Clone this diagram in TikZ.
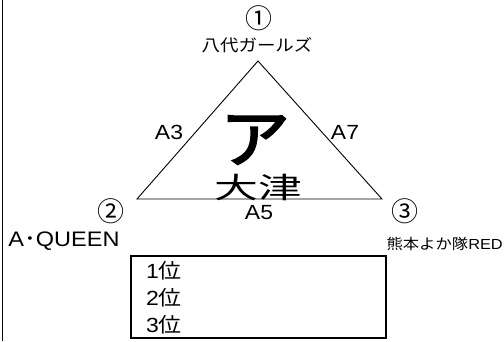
\documentclass[tikz,border=0pt]{standalone}
\usepackage{fontspec}
\setmainfont{Liberation Sans}[FakeStretch=1.12]
\newfontfamily\jp{Noto Sans CJK JP}[FakeStretch=1.12]
\newfontfamily\jpb{Noto Sans CJK JP}[FakeStretch=1.1,FakeBold=2.5]
\newfontfamily\circfont{Noto Sans CJK JP}
\begin{document}
\begin{tikzpicture}[x=1pt,y=-1pt,
  lbl/.style={inner sep=0pt,font=\fontsize{20.5}{20.5}\selectfont},
  circ/.style={inner sep=0pt,font=\circfont\fontsize{27}{27}\selectfont},
  small/.style={inner sep=0pt,font=\fontsize{14.6}{14.6}\selectfont}]
\useasboundingbox (0,0) rectangle (504,341);
\draw[line width=1pt] (2.5,0) -- (2.5,341);
\coordinate (t) at (258,61);
\coordinate (l) at (137,199);
\coordinate (r) at (382,199);
\draw[line width=0.9pt,line join=miter] (t) -- (l) -- (r) -- cycle;
\node[circ] (n1) at (259,18) {①};
\node[inner sep=0pt,font=\jp\fontsize{16.5}{16.5}\selectfont] (y) at (257,45) {八代ガールズ};
\node[lbl] (a3) at (169,132) {A3};
\node[lbl] (a7) at (345,132) {A7};
\node[inner sep=0pt,font=\jpb\fontsize{64}{64}\selectfont] (a) at (255,140) {ア};
\node[inner sep=0pt,font=\jp\fontsize{29}{29}\selectfont,xscale=1.35] (o) at (258,187) {大津};
\node[lbl] (a5) at (259,213) {A5};
\node[circ] (n2) at (111,211) {②};
\node[lbl,font=\fontsize{21}{21}\selectfont] (aq) at (64,241) {A{\jp ･}QUEEN};
\node[circ] (n3) at (405,211) {③};
\node[small,anchor=east] (k) at (503,244) {{\jp 熊本よか隊}RED};
\node[draw,line width=2pt,inner sep=0pt,minimum width=255pt,minimum height=82pt] (box) at (258.5,297) {};
\node[lbl,anchor=west] (p1) at (146,271) {1{\jp 位}};
\node[lbl,anchor=west] (p2) at (146,298) {2{\jp 位}};
\node[lbl,anchor=west] (p3) at (146,325) {3{\jp 位}};
\end{tikzpicture}
\end{document}
